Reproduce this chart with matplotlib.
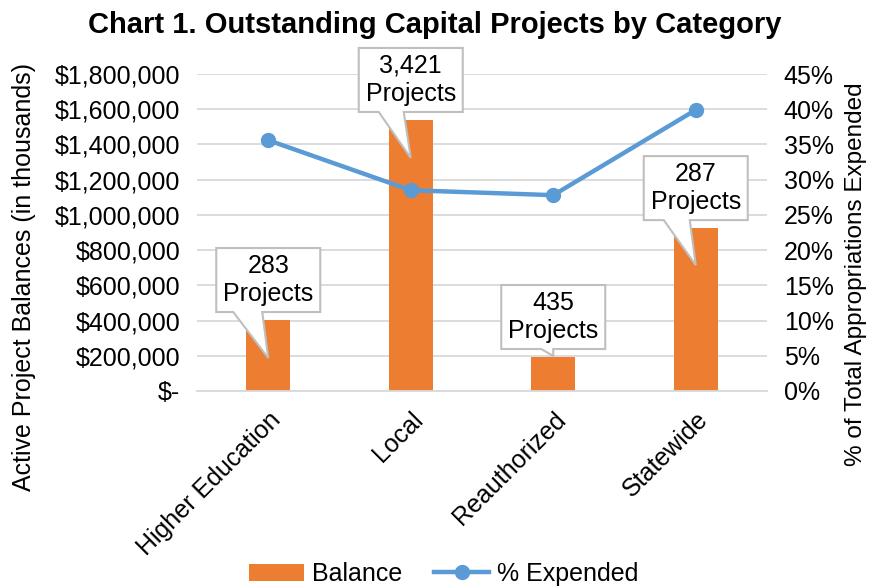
import matplotlib
matplotlib.use("Agg")
import matplotlib.pyplot as plt
from matplotlib.patches import Polygon, Patch
from matplotlib.lines import Line2D
from matplotlib.ticker import FuncFormatter, MultipleLocator

plt.rcParams['font.family'] = ['Liberation Sans', 'DejaVu Sans']

categories = ["Higher Education", "Local", "Reauthorized", "Statewide"]
balance = [403000, 1539000, 193000, 925000]
pct_expended = [35.6, 28.5, 27.8, 39.9]
project_counts = ["283", "3,421", "435", "287"]

BAR_COLOR = "#ED7D31"
LINE_COLOR = "#5B9BD5"

W, H = 870, 586
fig = plt.figure(figsize=(W / 100, H / 100), dpi=100)
L, R, T, B = 197, 767, 74, 391
ax = fig.add_axes([L / W, 1 - B / H, (R - L) / W, (B - T) / H])
ax2 = ax.twinx()

x = list(range(len(categories)))
ax.bar(x, balance, width=0.31, color=BAR_COLOR, zorder=2, label="Balance")
ax.set_xlim(-0.5, len(categories) - 0.5)
ax.set_ylim(0, 1800000)
ax.yaxis.set_major_locator(MultipleLocator(200000))
ax.yaxis.grid(True, color="#D9D9D9", linewidth=1.3, zorder=0)
ax.set_axisbelow(True)

def money(v, pos):
    if v == 0:
        return "$-"
    return "${:,.0f}".format(v)

ax.yaxis.set_major_formatter(FuncFormatter(money))
for s in list(ax.spines.values()) + list(ax2.spines.values()):
    s.set_visible(False)
ax.spines['bottom'].set_visible(True)
ax.spines['bottom'].set_color("#D9D9D9")
ax.spines['bottom'].set_linewidth(1.3)

ax.tick_params(axis='y', length=0, labelsize=18, pad=12)
ax.tick_params(axis='x', length=0, labelsize=18, pad=12)
ax.set_xticks(x)
ax.set_xticklabels(categories, rotation=45, ha='right', va='top', rotation_mode='anchor')

ax2.plot(x, pct_expended, color=LINE_COLOR, linewidth=3.2, marker='o', markersize=10,
         zorder=3, label="% Expended")
ax2.set_ylim(0, 45)
ax2.yaxis.set_major_locator(MultipleLocator(5))
ax2.yaxis.set_major_formatter(FuncFormatter(lambda v, p: "{:.0f}%".format(v)))
ax2.tick_params(axis='y', length=0, labelsize=18, pad=12)

ax.set_ylabel("Active Project Balances (in thousands)", fontsize=18)
ax.yaxis.set_label_coords(-0.282, 0.36)
ax2.set_ylabel("% of Total Appropriations Expended", fontsize=17.5)
ax2.yaxis.set_label_coords(1.137, 0.37)

fig.text(0.5, 1 - 25 / H, "Chart 1. Outstanding Capital Projects by Category",
         ha='center', va='center', fontsize=21, fontweight='bold')

# callouts (pixel-based layout converted to data units), drawn above the line
px_x = 1.0 / ((R - L) / len(categories))
px_y = 1800000 / (B - T)
tip_offsets = [-38, -38, 1, -37]
base_ranges = [(-35, -6), (-32, -7), (-12, 0), (-32, -6)]
for i, (v, cnt) in enumerate(zip(balance, project_counts)):
    bw, bh = 104, 64
    y0 = v + 8 * px_y
    y1 = y0 + bh * px_y
    xl = i - (bw / 2) * px_x
    xr = i + (bw / 2) * px_x
    b0, b1 = base_ranges[i]
    tip = (i, v + tip_offsets[i] * px_y)
    verts = [(xl, y1), (xr, y1), (xr, y0), (i + b1 * px_x, y0), tip,
             (i + b0 * px_x, y0), (xl, y0)]
    poly = Polygon(verts, closed=True, facecolor="white", edgecolor="#BFBFBF",
                   linewidth=1.5, zorder=5, clip_on=False, transform=ax.transData)
    ax2.add_patch(poly)
    ax2.text(i, (y0 + y1) / 2, cnt + "\nProjects", ha='center', va='center',
             fontsize=18, linespacing=1.25, zorder=6, transform=ax.transData)

handles = [Patch(facecolor=BAR_COLOR, label="Balance"),
           Line2D([0], [0], color=LINE_COLOR, linewidth=3.2, marker='o', markersize=10,
                  label="% Expended")]
fig.legend(handles=handles, loc='center', bbox_to_anchor=(0.51, 1 - 574 / H), ncol=2,
           frameon=False, fontsize=18, handlelength=2.2, columnspacing=1.3,
           handletextpad=0.3)

fig.savefig("out.png", dpi=100, facecolor="white")
